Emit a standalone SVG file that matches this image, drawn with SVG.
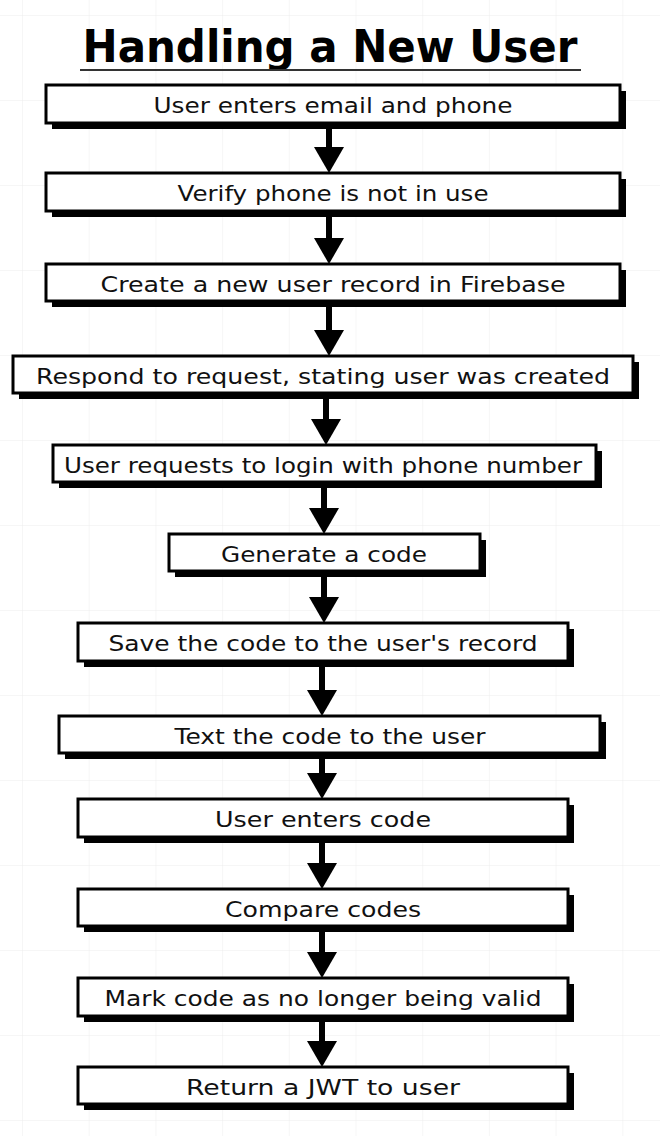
<svg xmlns="http://www.w3.org/2000/svg" width="660" height="1136" viewBox="0 0 660 1136">
<defs>
<pattern id="grid" x="22" y="15" width="66.7" height="85" patternUnits="userSpaceOnUse">
<path d="M0 0 V85 M0 0 H66.7" fill="none" stroke="#ededed" stroke-width="1"/>
</pattern>
<marker id="ah" viewBox="0 0 26 30" refX="16" refY="15" markerWidth="26" markerHeight="30" markerUnits="userSpaceOnUse" orient="auto">
<path d="M0 0 L26 15 L0 30 Z" fill="#000"/>
</marker>
</defs>
<style>
.shadow{fill:#000}
.box{fill:#fff;stroke:#000;stroke-width:3}
.lbl{font-family:"DejaVu Sans","Liberation Sans",sans-serif;font-size:22px;fill:#111;text-anchor:middle}
.title{font-family:"DejaVu Sans","Liberation Sans",sans-serif;font-size:44px;font-weight:bold;fill:#000;text-anchor:middle}
.conn{stroke:#000;stroke-width:6;fill:none}
</style>
<rect width="660" height="1136" fill="#fff"/>
<rect width="660" height="1136" fill="url(#grid)"/>
<g id="title">
<text class="title" x="330" y="62" textLength="495" lengthAdjust="spacingAndGlyphs">Handling a New User</text>
<line x1="80" y1="70" x2="581" y2="70" stroke="#333" stroke-width="2"/>
</g>
<g id="connectors">
<line class="conn" x1="329" y1="128" x2="329" y2="163" marker-end="url(#ah)"/>
<line class="conn" x1="329" y1="216" x2="329" y2="254" marker-end="url(#ah)"/>
<line class="conn" x1="329" y1="306" x2="329" y2="346" marker-end="url(#ah)"/>
<line class="conn" x1="326" y1="398" x2="326" y2="435" marker-end="url(#ah)"/>
<line class="conn" x1="324" y1="487" x2="324" y2="524" marker-end="url(#ah)"/>
<line class="conn" x1="324" y1="576" x2="324" y2="613" marker-end="url(#ah)"/>
<line class="conn" x1="322" y1="666" x2="322" y2="706" marker-end="url(#ah)"/>
<line class="conn" x1="322" y1="758" x2="322" y2="789" marker-end="url(#ah)"/>
<line class="conn" x1="322" y1="842" x2="322" y2="879" marker-end="url(#ah)"/>
<line class="conn" x1="322" y1="931" x2="322" y2="968" marker-end="url(#ah)"/>
<line class="conn" x1="322" y1="1021" x2="322" y2="1057" marker-end="url(#ah)"/>
</g>
<g id="n1"><rect class="shadow" x="52" y="91" width="574" height="38"/><rect class="box" x="46" y="85" width="574" height="38"/><text class="lbl" x="333" y="113" textLength="359" lengthAdjust="spacingAndGlyphs">User enters email and phone</text></g>
<g id="n2"><rect class="shadow" x="52" y="179" width="574" height="38"/><rect class="box" x="46" y="173" width="574" height="38"/><text class="lbl" x="333" y="201" textLength="311" lengthAdjust="spacingAndGlyphs">Verify phone is not in use</text></g>
<g id="n3"><rect class="shadow" x="52" y="270" width="574" height="37"/><rect class="box" x="46" y="264" width="574" height="37"/><text class="lbl" x="333" y="292" textLength="465" lengthAdjust="spacingAndGlyphs">Create a new user record in Firebase</text></g>
<g id="n4"><rect class="shadow" x="19" y="362" width="620" height="37"/><rect class="box" x="13" y="356" width="620" height="37"/><text class="lbl" x="323" y="384" textLength="574" lengthAdjust="spacingAndGlyphs">Respond to request, stating user was created</text></g>
<g id="n5"><rect class="shadow" x="59" y="451" width="543" height="37"/><rect class="box" x="53" y="445" width="543" height="37"/><text class="lbl" x="323" y="473" textLength="518" lengthAdjust="spacingAndGlyphs">User requests to login with phone number</text></g>
<g id="n6"><rect class="shadow" x="175" y="540" width="311" height="37"/><rect class="box" x="169" y="534" width="311" height="37"/><text class="lbl" x="324" y="562" textLength="206" lengthAdjust="spacingAndGlyphs">Generate a code</text></g>
<g id="n7"><rect class="shadow" x="84" y="629" width="490" height="38"/><rect class="box" x="78" y="623" width="490" height="38"/><text class="lbl" x="323" y="651" textLength="429" lengthAdjust="spacingAndGlyphs">Save the code to the user's record</text></g>
<g id="n8"><rect class="shadow" x="65" y="722" width="541" height="37"/><rect class="box" x="59" y="716" width="541" height="37"/><text class="lbl" x="330" y="744" textLength="311" lengthAdjust="spacingAndGlyphs">Text the code to the user</text></g>
<g id="n9"><rect class="shadow" x="84" y="805" width="490" height="38"/><rect class="box" x="78" y="799" width="490" height="38"/><text class="lbl" x="323" y="827" textLength="216" lengthAdjust="spacingAndGlyphs">User enters code</text></g>
<g id="n10"><rect class="shadow" x="84" y="895" width="490" height="37"/><rect class="box" x="78" y="889" width="490" height="37"/><text class="lbl" x="323" y="917" textLength="196" lengthAdjust="spacingAndGlyphs">Compare codes</text></g>
<g id="n11"><rect class="shadow" x="84" y="984" width="490" height="38"/><rect class="box" x="78" y="978" width="490" height="38"/><text class="lbl" x="323" y="1006" textLength="437" lengthAdjust="spacingAndGlyphs">Mark code as no longer being valid</text></g>
<g id="n12"><rect class="shadow" x="84" y="1073" width="490" height="37"/><rect class="box" x="78" y="1067" width="490" height="37"/><text class="lbl" x="323" y="1095" textLength="274" lengthAdjust="spacingAndGlyphs">Return a JWT to user</text></g>
</svg>
